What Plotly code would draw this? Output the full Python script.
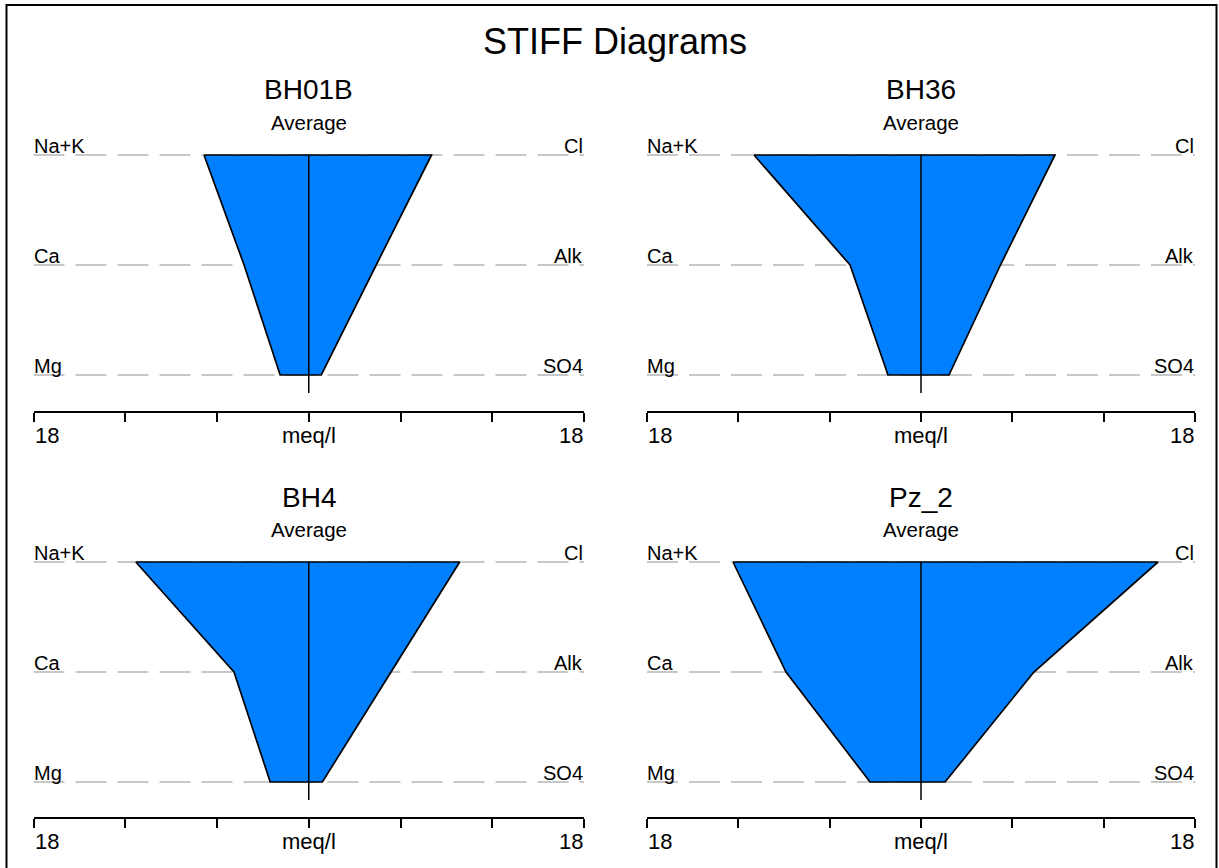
import plotly.graph_objects as go

W, H = 1219, 868

# ---------------- data (meq/l) ----------------
sites = ["BH01B", "BH36", "BH4", "Pz_2"]
subtitle = "Average"
cations = ["Na+K", "Ca", "Mg"]
anions = ["Cl", "Alk", "SO4"]
na_k = [6.85, 10.97, 11.31, 12.35]
ca = [4.23, 4.66, 4.89, 8.87]
mg = [1.87, 2.17, 2.52, 3.35]
cl = [8.03, 8.80, 9.87, 15.57]
alk = [4.41, 5.22, 5.38, 7.42]
so4 = [0.82, 1.84, 0.89, 1.58]
scale_max = 18
tick_vals = [-18, -12, -6, 0, 6, 12, 18]
axis_labels = ["18", "meq/l", "18"]
main_title = "STIFF Diagrams"

FONT = "Arial, Liberation Sans, sans-serif"
BLUE = "#0080ff"

# panel geometry in pixels: (x_left, x_right, y_top_line, y_axis)
panels = [
    (33.5, 584.0, 155.0, 411.0),
    (647.0, 1195.0, 155.0, 411.0),
    (33.5, 584.0, 562.0, 817.0),
    (647.0, 1195.0, 562.0, 817.0),
]
ROW = 110.0  # px between ion lines

def px_x(p):
    return p / W

def px_y(p):
    return 1 - p / H

fig = go.Figure()
layout = dict(
    width=W, height=H,
    margin=dict(l=0, r=0, t=0, b=0),
    paper_bgcolor="white", plot_bgcolor="white",
    showlegend=False,
)
shapes = []
annotations = []

for i, site in enumerate(sites):
    xl, xr, ytop, yax = panels[i]
    n = i + 1
    xa = "x" if n == 1 else f"x{n}"
    ya = "y" if n == 1 else f"y{n}"
    xkey = "xaxis" if n == 1 else f"xaxis{n}"
    ykey = "yaxis" if n == 1 else f"yaxis{n}"
    top_px = ytop - 20
    y_lo = 1 - (yax - (ytop + 2 * ROW)) / ROW
    y_hi = 3 + (ytop - top_px) / ROW
    layout[xkey] = dict(
        domain=[px_x(xl), px_x(xr)], range=[-scale_max, scale_max],
        anchor=ya, showgrid=False, zeroline=False,
        showline=True, linecolor="black", linewidth=1.5,
        ticks="outside", ticklen=9, tickwidth=1.5, tickcolor="black",
        tickvals=tick_vals, showticklabels=False, fixedrange=True,
    )
    layout[ykey] = dict(
        domain=[px_y(yax), px_y(top_px)], range=[y_lo, y_hi],
        anchor=xa, showgrid=False, zeroline=False, showline=False,
        showticklabels=False, ticks="", fixedrange=True,
    )

    # dashed ion lines
    for yv in [3, 2, 1]:
        shapes.append(dict(
            type="line", xref=xa, yref=ya, x0=-scale_max, x1=scale_max,
            y0=yv, y1=yv, layer="below",
            line=dict(color="#c8c8c8", width=2, dash="31px,11px"),
        ))

    # polygon
    xs = [-na_k[i], cl[i], alk[i], so4[i], -mg[i], -ca[i], -na_k[i]]
    ys = [3, 3, 2, 1, 1, 2, 3]
    fig.add_trace(go.Scatter(
        x=xs, y=ys, xaxis=xa, yaxis=ya, mode="lines",
        fill="toself", fillcolor=BLUE,
        line=dict(color="black", width=1.7), hoverinfo="skip",
    ))
    # center line
    fig.add_trace(go.Scatter(
        x=[0, 0], y=[3, 1 - 18 / ROW], xaxis=xa, yaxis=ya, mode="lines",
        line=dict(color="black", width=1.5), hoverinfo="skip",
    ))

    # ion labels
    for yv, cat, an in zip([3, 2, 1], cations, anions):
        annotations.append(dict(
            xref=xa, yref=ya, x=-scale_max, y=yv, text=cat, showarrow=False,
            xanchor="left", yanchor="bottom", yshift=-4, xshift=-2,
            font=dict(family=FONT, size=20, color="black"),
        ))
        annotations.append(dict(
            xref=xa, yref=ya, x=scale_max, y=yv, text=an, showarrow=False,
            xanchor="right", yanchor="bottom", yshift=-4, xshift=1,
            font=dict(family=FONT, size=20, color="black"),
        ))

    # axis labels
    xc = (xl + xr) / 2
    yl = yax + 24
    annotations.append(dict(
        xref="paper", yref="paper", x=px_x(xl), y=px_y(yl),
        text=axis_labels[0], showarrow=False, xanchor="left", yanchor="middle",
        xshift=-1, font=dict(family=FONT, size=22, color="black"),
    ))
    annotations.append(dict(
        xref="paper", yref="paper", x=px_x(xc), y=px_y(yl),
        text=axis_labels[1], showarrow=False, xanchor="center", yanchor="middle",
        font=dict(family=FONT, size=22, color="black"),
    ))
    annotations.append(dict(
        xref="paper", yref="paper", x=px_x(xr), y=px_y(yl),
        text=axis_labels[2], showarrow=False, xanchor="right", yanchor="middle",
        xshift=1, font=dict(family=FONT, size=22, color="black"),
    ))

    # titles
    annotations.append(dict(
        xref="paper", yref="paper", x=px_x(xc), y=px_y(ytop - 65),
        text=site, showarrow=False, xanchor="center", yanchor="middle",
        font=dict(family=FONT, size=28, color="black"),
    ))
    annotations.append(dict(
        xref="paper", yref="paper", x=px_x(xc), y=px_y(ytop - 33),
        text=subtitle, showarrow=False, xanchor="center", yanchor="middle",
        font=dict(family=FONT, size=20.5, color="black"),
    ))

# main title
annotations.append(dict(
    xref="paper", yref="paper", x=px_x(615), y=px_y(42),
    text=main_title, showarrow=False, xanchor="center", yanchor="middle",
    font=dict(family=FONT, size=36, color="black"),
))

# outer border
shapes.append(dict(
    type="rect", xref="paper", yref="paper",
    x0=px_x(6.5), x1=px_x(1216.5), y0=px_y(875), y1=px_y(5),
    line=dict(color="black", width=2), fillcolor="rgba(0,0,0,0)", layer="above",
))

layout["shapes"] = shapes
layout["annotations"] = annotations
fig.update_layout(**layout)
fig.write_html("out.html")
